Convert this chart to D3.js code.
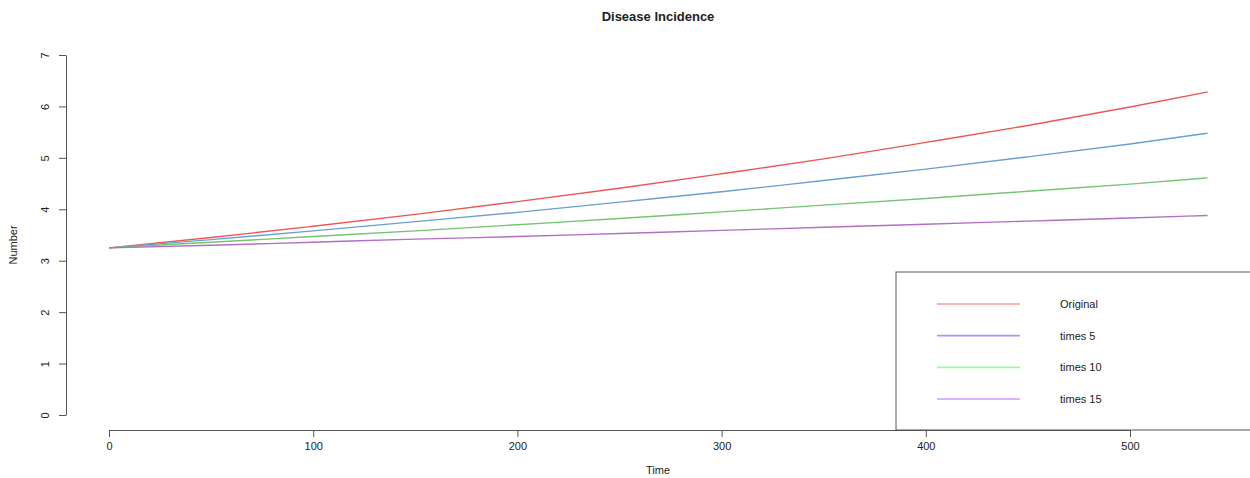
<!DOCTYPE html>
<html>
<head>
<meta charset="utf-8">
<script src="https://cdn.jsdelivr.net/npm/d3@7"></script>
<style>
  body { margin: 0; background: #fff; }
  text { font-family: "Liberation Sans", Arial, sans-serif; fill: #222; }
</style>
</head>
<body>
<script>
// values
const time = [0, 50, 100, 150, 200, 250, 300, 350, 400, 450, 500, 538];
const original = [3.25, 3.45, 3.67, 3.90, 4.15, 4.41, 4.69, 4.98, 5.30, 5.63, 5.99, 6.28];
const times5   = [3.25, 3.41, 3.58, 3.76, 3.94, 4.14, 4.34, 4.56, 4.78, 5.02, 5.27, 5.48];
const times10  = [3.25, 3.36, 3.47, 3.58, 3.70, 3.82, 3.95, 4.08, 4.21, 4.35, 4.49, 4.61];
const times15  = [3.25, 3.30, 3.36, 3.42, 3.47, 3.53, 3.59, 3.65, 3.71, 3.77, 3.83, 3.88];
const seriesNames = ["Original", "times 5", "times 10", "times 15"];
const xTicks = [0, 100, 200, 300, 400, 500];
const yTicks = [0, 1, 2, 3, 4, 5, 6, 7];

const width = 1250, height = 478;
const lineColors = ["#ee5555", "#6a9fd3", "#74c474", "#b070c4"];
const legendColors = ["#ff9a9a", "#9a9aff", "#9aff9a", "#cc9aff"];

const svg = d3.select("body").append("svg")
  .attr("width", width)
  .attr("height", height);

const xScale = d3.scaleLinear().domain([0, 500]).range([109, 1130]);
const yScale = d3.scaleLinear().domain([0, 7]).range([415, 55]);

// Axes (R style: line spans first to last tick)
const xAxis = d3.axisBottom(xScale).tickValues(xTicks).tickFormat(d3.format("d"))
  .tickSize(7).tickPadding(5).tickSizeOuter(0);
const yAxis = d3.axisLeft(yScale).tickValues(yTicks).tickFormat(d3.format("d"))
  .tickSize(7).tickSizeOuter(0);

const gx = svg.append("g").attr("transform", "translate(0,430)").call(xAxis);
gx.selectAll("text").style("font-size", "11px").attr("fill", "#222");

const gy = svg.append("g").attr("transform", "translate(66,0)").call(yAxis);
gy.selectAll("text")
  .style("font-size", "11px").attr("fill", "#222")
  .attr("text-anchor", "middle")
  .attr("x", null).attr("dy", null)
  .attr("transform", "translate(-21,0) rotate(-90)")
  .attr("y", 4);

[gx, gy].forEach(g => {
  g.select(".domain").attr("stroke", "#555");
  g.selectAll(".tick line").attr("stroke", "#555");
});

// Lines
const all = [original, times5, times10, times15];
const lineGen = d3.line()
  .x((d, i) => xScale(time[i]))
  .y(d => yScale(d))
  .curve(d3.curveMonotoneX);

all.forEach((s, k) => {
  svg.append("path")
    .attr("d", lineGen(s))
    .attr("fill", "none")
    .attr("stroke", lineColors[k])
    .attr("stroke-width", 1.4);
});

// Titles
svg.append("text").attr("x", 658).attr("y", 21)
  .attr("text-anchor", "middle")
  .style("font-size", "13px").style("font-weight", "bold")
  .text("Disease Incidence");

svg.append("text").attr("x", 658).attr("y", 474)
  .attr("text-anchor", "middle")
  .style("font-size", "11px")
  .text("Time");

svg.append("text")
  .attr("transform", "translate(17,245) rotate(-90)")
  .attr("text-anchor", "middle")
  .style("font-size", "11px")
  .text("Number");

// Legend
const legend = svg.append("g");
legend.append("rect")
  .attr("x", 896).attr("y", 272)
  .attr("width", 370).attr("height", 158)
  .attr("fill", "#fff").attr("stroke", "#555").attr("stroke-width", 1);

const legendY = d3.scaleLinear().domain([0, 3]).range([304, 399]);
seriesNames.forEach((name, k) => {
  legend.append("line")
    .attr("x1", 937).attr("x2", 1020)
    .attr("y1", legendY(k)).attr("y2", legendY(k))
    .attr("stroke", legendColors[k]).attr("stroke-width", 1.6);
  legend.append("text")
    .attr("x", 1060).attr("y", legendY(k) + 4)
    .style("font-size", "11px")
    .text(name);
});
</script>
</body>
</html>
